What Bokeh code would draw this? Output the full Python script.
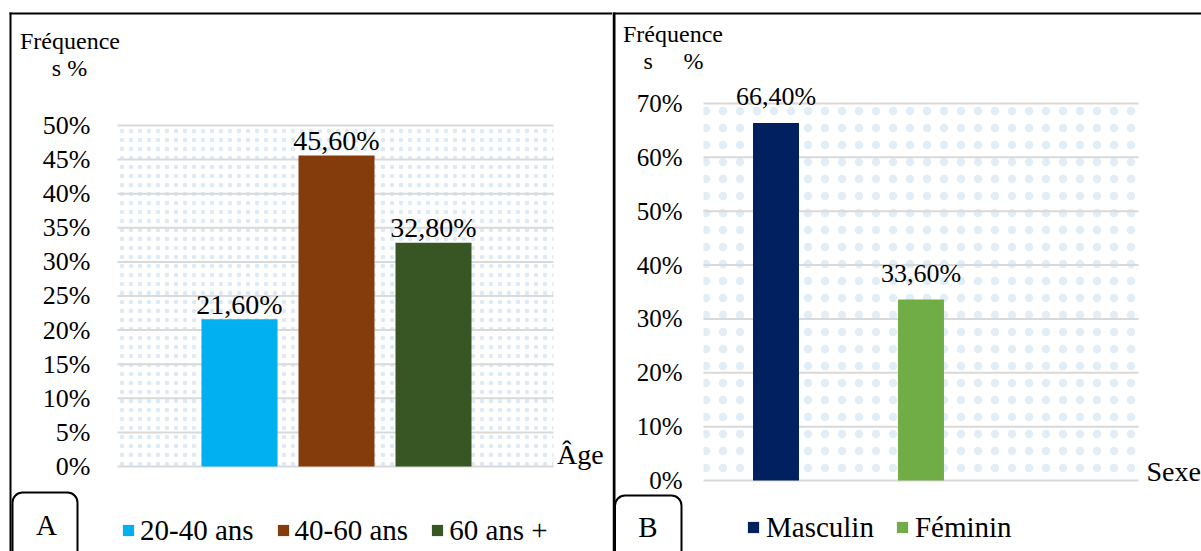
from bokeh.plotting import figure
from bokeh.models import (Range1d, FixedTicker, PrintfTickFormatter, Label, BoxAnnotation,
                          Legend, LegendItem, ColumnDataSource, LinearAxis)
from bokeh.layouts import row
from bokeh.embed import file_html
from bokeh.resources import INLINE
from bokeh.core.properties import value

FONT = "Liberation Serif"

# ---------------- data ----------------
age_categories = ["20-40 ans", "40-60 ans", "60 ans +"]
age_values = [21.6, 45.6, 32.8]
age_colors = ["#00B0F0", "#843C0C", "#375623"]
age_ticks = [0, 5, 10, 15, 20, 25, 30, 35, 40, 45, 50]

sex_categories = ["Masculin", "Féminin"]
sex_values = [66.4, 33.6]
sex_colors = ["#002060", "#70AD47"]
sex_ticks = [0, 10, 20, 30, 40, 50, 60, 70]


def fmt(v):
    return f"{v:.2f}".replace(".", ",") + "%"


def sbox(fig, l, r, t, b, **kw):
    fig.add_layout(BoxAnnotation(left=l, right=r, top=t, bottom=b,
                                 left_units="screen", right_units="screen",
                                 top_units="screen", bottom_units="screen", **kw))


def slabel(fig, x, y, text, size, align="left"):
    # y is the wanted baseline (screen units from the bottom); the renderer
    # draws the text ~0.38em lower, so compensate
    px = float(size.replace("px", ""))
    fig.add_layout(Label(x=x, y=y + 0.38 * px, x_units="screen", y_units="screen", text=text,
                         text_font=FONT, text_font_size=size, text_color="black",
                         text_align=align, text_baseline="alphabetic"))


def make_panel(width, xr, yr, x_left, x_right, ticks, standoff, tick_size,
               hatch_scale, hatch_alpha):
    p = figure(width=width, height=551, output_backend="svg", toolbar_location=None,
               x_range=Range1d(*xr), y_range=Range1d(*yr),
               x_axis_location=None, y_axis_location=None,
               min_border=0, min_border_left=0, min_border_right=0,
               min_border_top=0, min_border_bottom=0)
    p.outline_line_color = None
    p.background_fill_color = "white"
    p.border_fill_color = "white"
    p.grid.visible = False
    ax = LinearAxis(fixed_location=x_left, ticker=FixedTicker(ticks=ticks),
                    formatter=PrintfTickFormatter(format="%d%%"))
    ax.axis_line_color = None
    ax.major_tick_line_color = None
    ax.minor_tick_line_color = None
    ax.major_tick_out = 0
    ax.major_tick_in = 0
    ax.minor_tick_out = 0
    ax.minor_tick_in = 0
    ax.major_label_standoff = standoff
    ax.major_label_text_font = FONT
    ax.major_label_text_font_size = tick_size
    ax.major_label_text_color = "black"
    p.add_layout(ax, "left")
    # dotted plot-area background
    p.add_layout(BoxAnnotation(left=x_left, right=x_right, bottom=ticks[0], top=ticks[-1],
                               fill_color=None, line_color=None, hatch_pattern="dot",
                               hatch_color="#9dc3e6", hatch_alpha=hatch_alpha,
                               hatch_scale=hatch_scale, hatch_weight=0.5, level="underlay"))
    # horizontal gridlines
    n = len(ticks)
    p.segment(x0=[x_left] * n, x1=[x_right] * n, y0=ticks, y1=ticks,
              line_color="#d9d9d9", line_width=2)
    return p


# ---------------- panel A (canvas x 0..612) ----------------
pa = make_panel(612, (-1.4639, 4.8454), (-12.463, 68.328), -0.2577, 4.237,
                age_ticks, 27, "26px", 9, 0.35)

src_a = ColumnDataSource(dict(x=list(range(1, len(age_values) + 1)), top=age_values,
                              color=age_colors, lab=[fmt(v) for v in age_values]))
ra = pa.vbar(x="x", top="top", width=0.7835, color="color", line_color=None, source=src_a)
pa.text(x="x", y="top", text="lab", source=src_a, text_align="center",
        text_baseline="alphabetic", y_offset=-15, text_font=value(FONT),
        text_font_size="28px", text_color="black")

leg_a = Legend(items=[LegendItem(label=c, renderers=[ra], index=i) for i, c in enumerate(age_categories)],
               orientation="horizontal", location=(121, 3), padding=0, margin=0, spacing=22,
               glyph_width=14, glyph_height=14, label_standoff=5, label_height=36,
               label_text_font=FONT, label_text_font_size="29px", label_text_color="black",
               border_line_color=None, background_fill_alpha=0)
pa.add_layout(leg_a)

sbox(pa, 9, 612, 539, 537, fill_color="black", fill_alpha=1, line_color=None)
sbox(pa, 9, 11, 539, -5, fill_color="black", fill_alpha=1, line_color=None)
sbox(pa, 12, 77, 59, -20, fill_color=None, fill_alpha=0, line_color="black", line_alpha=1,
     line_width=2, border_radius=10)
slabel(pa, 46, 15, "A", "29px", "center")
slabel(pa, 69.5, 501, "Fréquence", "24px", "center")
slabel(pa, 69, 474, "s %", "24px", "center")
slabel(pa, 556.5, 86, "Âge", "28px")

# ---------------- panel B (canvas x 612..1201) ----------------
pb = make_panel(589, (-0.6276, 3.4345), (-13.183, 89.125), 0, 3,
                sex_ticks, 21, "25px", 17, 0.3)

src_b = ColumnDataSource(dict(x=[i + 0.5 for i in range(len(sex_values))], top=sex_values,
                              color=sex_colors, lab=[fmt(v) for v in sex_values]))
rb = pb.vbar(x="x", top="top", width=0.317, color="color", line_color=None, source=src_b)
pb.text(x="x", y="top", text="lab", source=src_b, text_align="center",
        text_baseline="alphabetic", y_offset=-26, text_font=value(FONT),
        text_font_size="26px", text_color="black")

leg_b = Legend(items=[LegendItem(label=c, renderers=[rb], index=i) for i, c in enumerate(sex_categories)],
               orientation="horizontal", location=(134, 6), padding=0, margin=0, spacing=21,
               glyph_width=14, glyph_height=14, label_standoff=6, label_height=36,
               label_text_font=FONT, label_text_font_size="29px", label_text_color="black",
               border_line_color=None, background_fill_alpha=0)
pb.add_layout(leg_b)

sbox(pb, 0, 589, 539, 537, fill_color="black", fill_alpha=1, line_color=None)
sbox(pb, 0, 3, 539, -5, fill_color="black", fill_alpha=1, line_color=None)
sbox(pb, 2.5, 69, 56, -20, fill_color=None, fill_alpha=0, line_color="black", line_alpha=1,
     line_width=2, border_radius=10)
slabel(pb, 35.5, 13, "B", "29px", "center")
slabel(pb, 60.5, 508, "Fréquence", "24px", "center")
slabel(pb, 31, 481, "s", "24px")
slabel(pb, 71, 481, "%", "24px")
slabel(pb, 534, 69, "Sexe", "28px")

layout = row(pa, pb)
open("out.html", "w").write(file_html(layout, INLINE))
